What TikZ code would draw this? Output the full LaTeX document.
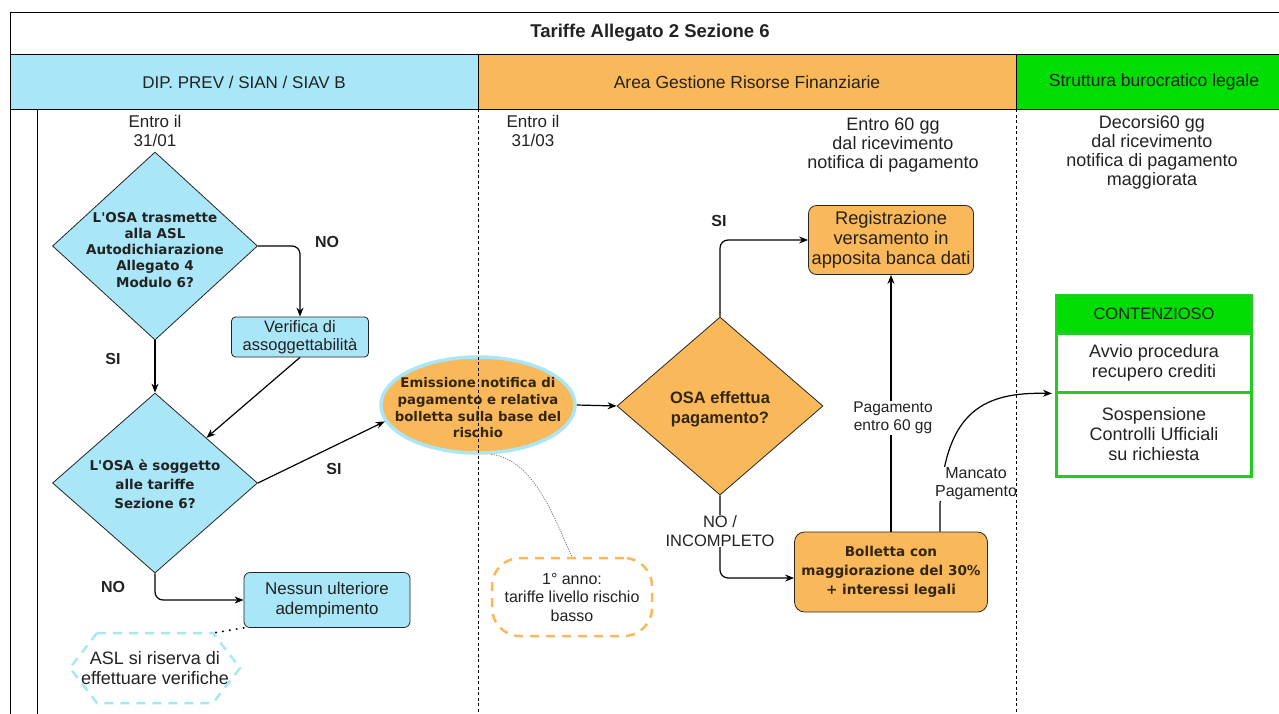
\documentclass[tikz,border=0pt]{standalone}
\usepackage{fontspec}
\setmainfont{Liberation Sans}
\newfontfamily\verd{DejaVu Sans}
\usetikzlibrary{shapes.geometric,arrows.meta,calc}
\definecolor{lblue}{HTML}{A9E6F7}
\definecolor{lorange}{HTML}{F9B85A}
\definecolor{lgreen}{HTML}{00DD00}
\definecolor{bgreen}{HTML}{22CC22}
\definecolor{txt}{HTML}{222222}
\definecolor{brn}{HTML}{33260D}
\newcommand{\fs}[2]{\fontsize{#1}{#2}\selectfont}
\newcommand{\ctext}[3][-4pt]{\smash{\raisebox{#1}{\makebox[0pt]{#2\begin{tabular}{@{}c@{}}#3\end{tabular}}}}}
\begin{document}
\begin{tikzpicture}[x=1pt,y=-1pt,
  lbl/.style={font=\fs{16}{18.5}, text=txt, align=center, inner sep=1pt},
  blbl/.style={font=\bfseries\fs{16}{18.5}, text=txt, inner sep=1pt},
  dia/.style={diamond, draw=black!85, line width=0.8pt, inner sep=0pt},
  box/.style={rectangle, rounded corners=6pt, draw=black!85, line width=0.8pt, align=center, inner sep=0pt, text=txt},
  cbox/.style={rectangle, draw=bgreen, line width=3pt, align=center, inner sep=0pt, minimum width=195pt, text=txt},
  arr/.style={-{Stealth[length=9pt,width=7pt]}, line width=1.2pt, black},
  dots/.style={line width=2.2pt, line cap=round, dash pattern=on 0pt off 7pt},
  lane/.style={line width=0.9pt, dash pattern=on 3pt off 2.5pt}
]
\useasboundingbox (0,0) rectangle (1279,713);
\clip (0,0) rectangle (1279,713);
% pool
\draw[line width=1pt, fill=white] (10,12) rectangle (1295,54);
\node[blbl, font=\bfseries\fs{18.5}{20}] (title) at (650,33) {Tariffe Allegato 2 Sezione 6};
\draw[line width=1pt, fill=lblue] (10,54) rectangle (478,109);
\draw[line width=1pt, fill=lorange] (478,54) rectangle (1016,109);
\draw[line width=1pt, fill=lgreen] (1016,54) rectangle (1295,109);
\node[lbl, font=\fs{17}{19}] (h1) at (244,82) {DIP. PREV / SIAN / SIAV B};
\node[lbl, font=\fs{17.5}{19}] (h2) at (747,82) {Area Gestione Risorse Finanziarie};
\node[lbl, font=\fs{17.5}{19}] (h3) at (1154,82) {Struttura burocratico legale};
\draw[line width=1pt] (10,54) -- (10,720);
\draw[line width=1pt] (37,109) -- (37,720);

% lane 1
\node[lbl, font=\fs{17}{19}] (t1) at (155,131) {Entro il\\31/01};
\node[dia, fill=lblue, minimum width=205pt, minimum height=188pt] (d1) at (155,246)
  {\ctext[-9pt]{\verd\bfseries\fs{13.5}{16.3}\color{txt}}{L\textquotesingle OSA trasmette\\alla ASL\\Autodichiarazione\\Allegato 4\\Modulo 6?}};
\node[box, fill=lblue, rounded corners=4pt, minimum width=137pt, minimum height=40pt, font=\fs{16.5}{18.5}] (ver) at (300,337) {Verifica di\\assoggettabilità};
\node[dia, fill=lblue, minimum width=205pt, minimum height=180pt] (d2) at (155,483)
  {\ctext[-6pt]{\verd\bfseries\fs{13.5}{19}\color{txt}}{L\textquotesingle OSA è soggetto\\alle tariffe\\Sezione 6?}};
\node[box, fill=lblue, minimum width=166pt, minimum height=55pt, font=\fs{17}{20}] (none) at (327,600) {Nessun ulteriore\\adempimento};
\node[lbl, font=\fs{18}{19.5}] (asl) at (155,668) {ASL si riserva di\\effettuare verifiche};
\coordinate (aslc) at ($(asl)+(58,-35)$);
\draw[lblue, line width=2.5pt, dash pattern=on 9pt off 7pt]
  ($(asl)+(-58,-35)$) -- (aslc) -- ($(asl)+(85,0)$) -- ($(asl)+(58,35)$) -- ($(asl)+(-58,35)$) -- ($(asl)+(-85,0)$) -- cycle;

% lane 2
\node[ellipse, fill=lorange, draw=lblue, line width=3.5pt, minimum width=194pt, minimum height=96pt, inner sep=0pt] (em) at (478,405)
  {\ctext[-8pt]{\verd\bfseries\fs{13.3}{16.7}\color{brn}}{Emissione notifica di\\pagamento e relativa\\bolletta sulla base del\\rischio}};
\node[lbl, font=\fs{17}{19}] (t2) at (533,131) {Entro il\\31/03};
\node[lbl, font=\fs{18}{19}] (t3) at (893,145) {Entro 60 gg\\dal ricevimento\\notifica di pagamento};
\node[dia, fill=lorange, minimum width=206pt, minimum height=178pt] (d3) at (720,406)
  {\ctext[-8pt]{\bfseries\fs{16.5}{20}\color{brn}}{OSA effettua\\pagamento?}};
\node[box, fill=lorange, rounded corners=8pt, minimum width=165pt, minimum height=69pt, font=\fs{18.3}{20}] (reg) at (891,240) {Registrazione\\versamento in\\apposita banca dati};
\node[box, fill=lorange, rounded corners=10pt, minimum width=193pt, minimum height=80pt, text=brn, font=\verd\bfseries\fs{13.6}{19}] (bol) at (891,572) {Bolletta con\\maggiorazione del 30\%\\+ interessi legali};
\node[rectangle, rounded corners=28pt, draw=lorange, line width=2.5pt, dash pattern=on 9pt off 7pt, minimum width=160pt, minimum height=78pt, align=center, text=txt, font=\fs{16}{18.5}] (note) at (572,597) {1° anno:\\tariffe livello rischio\\basso};

% lane 3
\node[lbl, font=\fs{18}{19}] (t4) at (1152,152) {Decorsi60 gg\\dal ricevimento\\notifica di pagamento\\maggiorata};
\node[cbox, fill=lgreen, minimum height=38pt, font=\fs{16.5}{19}] (conth) at (1154,314) {CONTENZIOSO};
\node[cbox, fill=white, minimum height=59pt, font=\fs{18}{20}] (c1) at (1154,362.5) {Avvio procedura\\recupero crediti};
\node[cbox, fill=white, minimum height=84pt, font=\fs{18}{20}] (c2) at (1154,434.5) {Sospensione\\Controlli Ufficiali\\su richiesta};

% connectors
\draw[arr, rounded corners=8pt] (d1.east) -| (ver.north);
\draw[arr] (d1.south) -- (d2.north);
\draw[arr] (ver.south) -- (d2.north east);
\draw[arr] (d2.east) -- (em.190);
\draw[arr, rounded corners=8pt] (d2.south) |- (none.west);
\draw[dots] (none.south west) -- (aslc);
\draw[arr] (em.east) -- (d3.west);
\draw[arr, rounded corners=8pt] (d3.north) |- (reg.west);
\draw[arr, rounded corners=8pt] (d3.south) |- ($(bol.west)+(0,6)$);
\draw[arr] (bol.north) -- (reg.south);
\draw[gray, line width=0.8pt, dash pattern=on 1.2pt off 1.2pt] (em.-75) .. controls (535,460) and (555,520) .. (note.north);
\coordinate (mstart) at ($(bol.north)+(49,0)$);
\draw[arr, shorten >=3pt] (mstart) -- ($(mstart)+(0,-27)$) .. controls (945,410) and (985,392) .. (c1.south west);

% labels
\node[blbl] (l1) at (327,242) {NO};
\node[blbl] (l2) at (113,359) {SI};
\node[blbl] (l3) at (334,469) {SI};
\node[blbl] (l4) at (113,587) {NO};
\node[blbl] (l5) at (719,221) {SI};
\node[lbl, fill=white, font=\fs{15.5}{18}] (l6) at (893,418) {Pagamento\\entro 60 gg};
\node[lbl, fill=white, font=\fs{16.5}{18.5}] (l7) at (720,531) {NO /\\INCOMPLETO};
\node[lbl, fill=white, font=\fs{16}{18}] (l8) at (976,484) {Mancato\\Pagamento};

% lane separators
\draw[lane] (478,109) -- (478,720);
\draw[lane] (1016,109) -- (1016,720);
\end{tikzpicture}
\end{document}
